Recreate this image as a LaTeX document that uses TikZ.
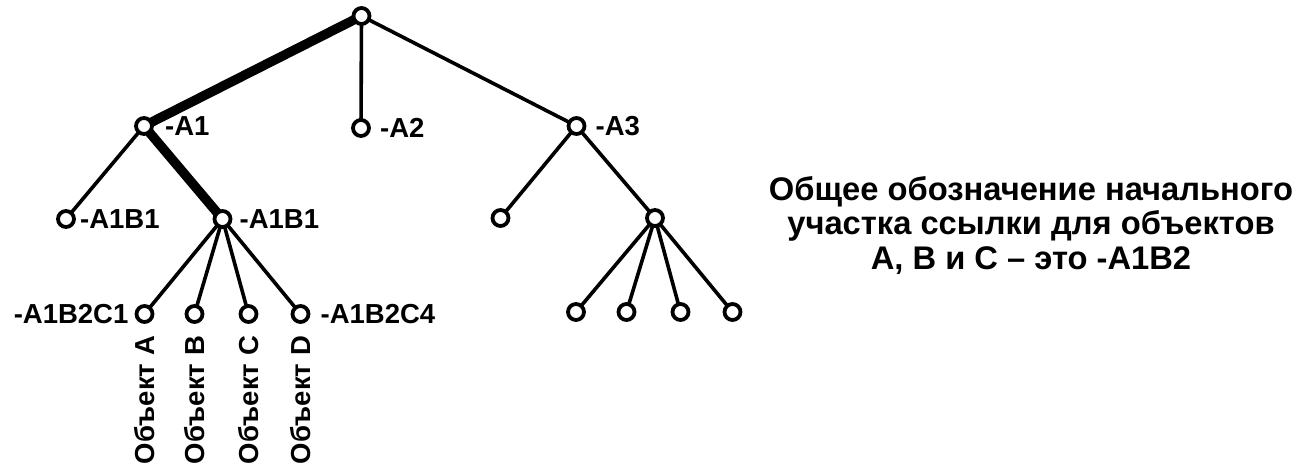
\documentclass[tikz,border=0pt]{standalone}
\usepackage{fontspec}
\setmainfont{Liberation Sans}
\pgfdeclarelayer{bg}
\pgfsetlayers{bg,main}
\begin{document}
\begin{tikzpicture}[x=1pt,y=-1pt,
  vtx/.style={circle,draw=black,line width=3.8pt,fill=white,minimum size=16pt,inner sep=0pt},
  edge/.style={line width=3.6pt,black},
  boldedge/.style={line width=9.5pt,black},
  lbl/.style={font=\fontsize{27.5}{33}\selectfont\bfseries,inner sep=0pt},
  vlbl/.style={lbl,rotate=90,anchor=east},
  note/.style={font=\fontsize{32.7}{34.5}\selectfont\bfseries,inner sep=0pt,align=center}
]
\useasboundingbox (0,0) rectangle (1312,469);
% vertices
\node[vtx] (r)  at (361.5,16) {};
\node[vtx] (a1) at (144,126) {};
\node[vtx] (a2) at (361,128) {};
\node[vtx] (a3) at (576.5,126) {};
\node[vtx] (b1) at (66,219) {};
\node[vtx] (b2) at (222.5,219) {};
\node[vtx] (c1) at (144.5,314) {};
\node[vtx] (c2) at (194.5,314) {};
\node[vtx] (c3) at (248.5,314) {};
\node[vtx] (c4) at (300.5,314) {};
\node[vtx] (d1) at (500.5,218) {};
\node[vtx] (d2) at (655,218) {};
\node[vtx] (e1) at (576,312) {};
\node[vtx] (e2) at (626.5,312) {};
\node[vtx] (e3) at (680.5,312) {};
\node[vtx] (e4) at (732.5,312) {};
% edges
\begin{pgfonlayer}{bg}
\draw[boldedge] (r.center) -- (a1.center) -- (b2.center);
\draw[edge] (r.center) -- (a2.center);
\draw[edge] (r.center) -- (a3.center);
\draw[edge] (a1.center) -- (b1.center);
\foreach \c in {c1,c2,c3,c4} \draw[edge] (b2.center) -- (\c.center);
\draw[edge] (a3.center) -- (d1.center);
\draw[edge] (a3.center) -- (d2.center);
\foreach \e in {e1,e2,e3,e4} \draw[edge] (d2.center) -- (\e.center);
\end{pgfonlayer}
% labels
\node[lbl,anchor=west] (la1) at ([xshift=11pt]a1.east) {-A1};
\node[lbl,anchor=west] (la2) at ([xshift=9pt]a2.east) {-A2};
\node[lbl,anchor=west] (la3) at ([xshift=9pt]a3.east) {-A3};
\node[lbl,anchor=west] (lb1) at ([xshift=4pt]b1.east) {-A1B1};
\node[lbl,anchor=west] (lb2) at ([xshift=7pt]b2.east) {-A1B1};
\node[lbl,anchor=east] (lc1) at ([xshift=-6pt]c1.west) {-A1B2C1};
\node[lbl,anchor=west] (lc4) at ([xshift=10pt]c4.east) {-A1B2C4};
\node[vlbl] (oa) at ([yshift=-12pt]c1.south) {Объект A};
\node[vlbl] (ob) at ([yshift=-12pt]c2.south) {Объект B};
\node[vlbl] (oc) at ([yshift=-12pt]c3.south) {Объект C};
\node[vlbl] (od) at ([yshift=-12pt]c4.south) {Объект D};
\node[note,anchor=north] (txt) at (1031,176) {Общее обозначение начального\\участка ссылки для объектов\\A, B и C – это -A1B2};
\end{tikzpicture}
\end{document}
